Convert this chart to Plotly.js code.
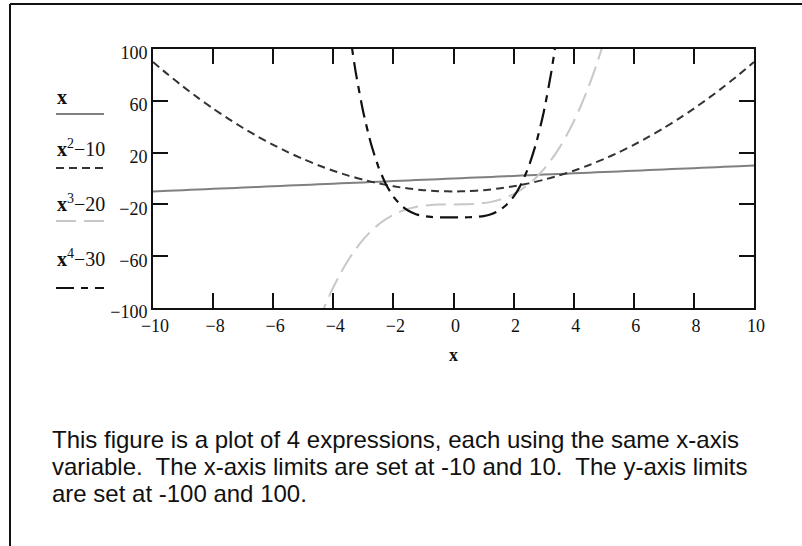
<!DOCTYPE html>
<html>
<head>
<meta charset="utf-8">
<script src="https://cdn.plot.ly/plotly-3.0.1.min.js"></script>
<style>
html,body{margin:0;padding:0;background:#fff;}
#chart{width:802px;height:546px;}
</style>
</head>
<body>
<div id="chart"></div>
<script>
// ---- data ----
var xLin = [-10,-9.5,-9,-8.5,-8,-7.5,-7,-6.5,-6,-5.5,-5,-4.5,-4,-3.5,-3,-2.5,-2,-1.5,-1,-0.5,0,0.5,1,1.5,2,2.5,3,3.5,4,4.5,5,5.5,6,6.5,7,7.5,8,8.5,9,9.5,10];
var yLin = [-10,-9.5,-9,-8.5,-8,-7.5,-7,-6.5,-6,-5.5,-5,-4.5,-4,-3.5,-3,-2.5,-2,-1.5,-1,-0.5,0,0.5,1,1.5,2,2.5,3,3.5,4,4.5,5,5.5,6,6.5,7,7.5,8,8.5,9,9.5,10];
var ySq  = [90,80.25,71,62.25,54,46.25,39,32.25,26,20.25,15,10.25,6,2.25,-1,-3.75,-6,-7.75,-9,-9.75,-10,-9.75,-9,-7.75,-6,-3.75,-1,2.25,6,10.25,15,20.25,26,32.25,39,46.25,54,62.25,71,80.25,90];

var xCub = [-4.5,-4.25,-4,-3.75,-3.5,-3.25,-3,-2.75,-2.5,-2.25,-2,-1.75,-1.5,-1.25,-1,-0.75,-0.5,-0.25,0,0.25,0.5,0.75,1,1.25,1.5,1.75,2,2.25,2.5,2.75,3,3.25,3.5,3.75,4,4.25,4.5,4.75,5];
var yCub = [-111.13,-96.77,-84,-72.73,-62.88,-54.33,-47,-40.8,-35.63,-31.39,-28,-25.36,-23.38,-21.95,-21,-20.42,-20.13,-20.02,-20,-19.98,-19.88,-19.58,-19,-18.05,-16.63,-14.64,-12,-8.61,-4.38,0.8,7,14.33,22.88,32.73,44,56.77,71.13,87.17,105];

var xQua = [-3.5,-3.25,-3,-2.75,-2.5,-2.25,-2,-1.75,-1.5,-1.25,-1,-0.75,-0.5,-0.25,0,0.25,0.5,0.75,1,1.25,1.5,1.75,2,2.25,2.5,2.75,3,3.25,3.5];
var yQua = [120.06,81.57,51,27.19,9.06,-4.37,-14,-20.62,-24.94,-27.56,-29,-29.68,-29.94,-30,-30,-30,-29.94,-29.68,-29,-27.56,-24.94,-20.62,-14,-4.37,9.06,27.19,51,81.57,120.06];

var xTicks = [-10,-8,-6,-4,-2,0,2,4,6,8,10];
var xTickText = ['\u221210','\u22128','\u22126','\u22124','\u22122','0','2','4','6','8','10'];
var yTicks = [-100,-60,-20,20,60,100];
var yTickText = ['\u2212100','\u221260','\u221220','20','60','100'];

var legendLabels = ['<b>x</b>','<b>x</b><sup>2</sup>\u221210','<b>x</b><sup>3</sup>\u221220','<b>x</b><sup>4</sup>\u221230'];
var captionLines = [
  'This figure is a plot of 4 expressions, each using the same x-axis',
  'variable.\u00a0 The x-axis limits are set at -10 and 10.\u00a0 The y-axis limits',
  'are set at -100 and 100.'
];

// ---- styles ----
var colors = ['#808080','#333333','#c8c8c8','#111111'];
var dashes = ['solid','8px,5px','20px,8px','18px,7px,7px,7px'];
var widths = [2,2,2,2.2];

// pixel helpers for decoration placement (plot area 153..754, 49..308)
var L=153, R=754, T=49, B=308;
function px(X){return (X-L)/(R-L);}
function py(Y){return (B-Y)/(B-T);}

var serif = 'Liberation Serif, Times New Roman, serif';
var sans = 'Liberation Sans, Arial, sans-serif';

var traces = [
  {x:xLin, y:yLin},
  {x:xLin, y:ySq},
  {x:xCub, y:yCub},
  {x:xQua, y:yQua}
].map(function(t,i){
  return {x:t.x, y:t.y, type:'scatter', mode:'lines', showlegend:false, hoverinfo:'skip',
    line:{color:colors[i], width:widths[i], dash:dashes[i], shape:'spline', smoothing:0.6}};
});

var annotations = [];
var legendTextY = [97, 148, 203, 258];
var legendLineY = [114, 168, 221, 288];
legendLabels.forEach(function(s,i){
  annotations.push({xref:'paper', yref:'paper', x:px(55), y:py(legendTextY[i]), xanchor:'left', yanchor:'middle',
    text:s, showarrow:false, font:{family:serif, size:20, color:'#111'}});
});
captionLines.forEach(function(s,i){
  annotations.push({xref:'paper', yref:'paper', x:px(50), y:py(439+27*i), xanchor:'left', yanchor:'middle',
    text:s, showarrow:false, font:{family:sans, size:24, color:'#111'}});
});

var shapes = [];
legendLineY.forEach(function(yy,i){
  shapes.push({type:'line', xref:'paper', yref:'paper', x0:px(56), x1:px(104), y0:py(yy), y1:py(yy),
    line:{color:colors[i], width:widths[i], dash:dashes[i]}});
});
// page frame
shapes.push({type:'line', xref:'paper', yref:'paper', x0:px(10), x1:px(802), y0:py(4), y1:py(4), line:{color:'#111', width:2}});
shapes.push({type:'line', xref:'paper', yref:'paper', x0:px(10), x1:px(10), y0:py(4), y1:py(546), line:{color:'#111', width:2}});

var axisCommon = {showgrid:false, zeroline:false, showline:true, linecolor:'#111', linewidth:2, mirror:'ticks',
  ticks:'inside', ticklen:15, tickwidth:2, tickcolor:'#111', tickfont:{family:serif, size:18, color:'#111'}, fixedrange:true};

var layout = {
  width:802, height:546,
  margin:{l:L, r:802-R, t:T, b:546-B, pad:0},
  paper_bgcolor:'#fff', plot_bgcolor:'#fff',
  xaxis:Object.assign({}, axisCommon, {range:[-10,10], tickmode:'array', tickvals:xTicks, ticktext:xTickText,
    ticklabelshift:2,
    title:{text:'<b>x</b>', font:{family:serif, size:18, color:'#111'}, standoff:14}}),
  yaxis:Object.assign({}, axisCommon, {range:[-100,100], tickmode:'array', tickvals:yTicks, ticktext:yTickText,
    ticklabelshift:4}),
  annotations:annotations,
  shapes:shapes
};

Plotly.newPlot('chart', traces, layout, {displayModeBar:false, staticPlot:true});
</script>
</body>
</html>
